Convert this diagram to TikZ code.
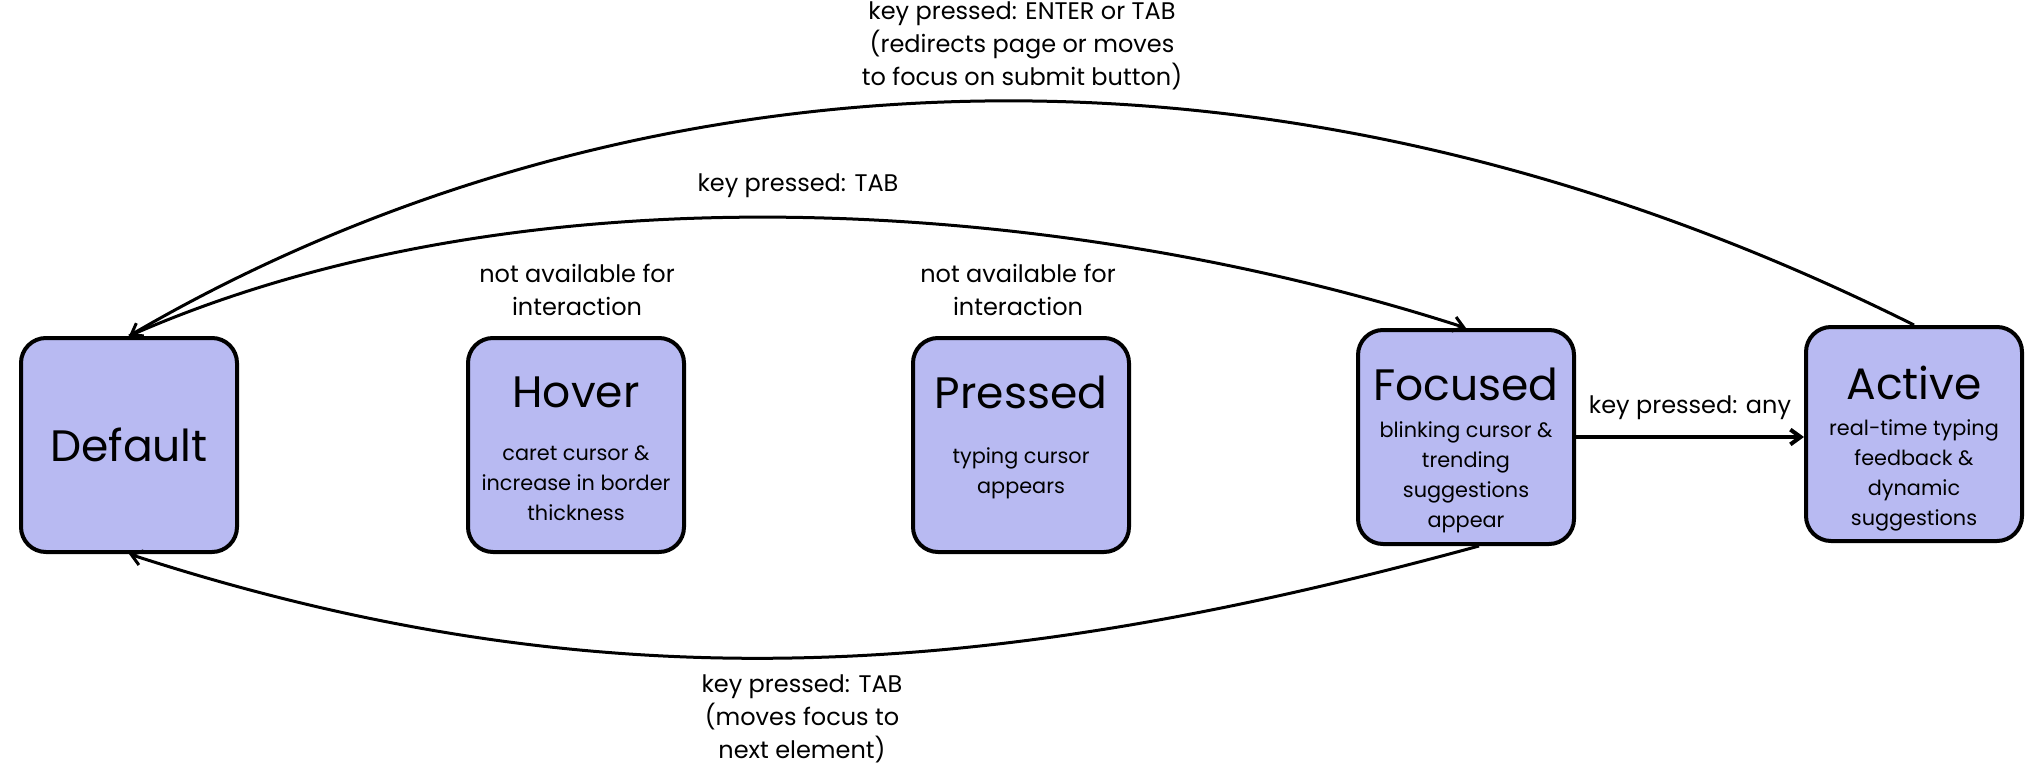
\documentclass[tikz,border=0pt]{standalone}
\usepackage{fontspec}
\setmainfont{Poppins}
\usetikzlibrary{arrows.meta}
\definecolor{lavender}{HTML}{B8BAF2}

\begin{document}
\begin{tikzpicture}[
  x=0.5pt,
  y=-0.5pt,
  statebox/.style={
    rectangle,
    rounded corners=12.5pt,
    draw=black,
    fill=lavender,
    line width=2pt,
    minimum width=108pt,
    minimum height=107pt,
    inner sep=0pt
  },
  headline/.style={font=\fontsize{22}{26}\selectfont},
  detail/.style={
    font=\fontsize{10.4}{15}\selectfont,
    align=center,
    inner sep=0pt
  },
  cue/.style={
    font=\fontsize{12}{16.5}\selectfont,
    align=center,
    inner sep=0pt
  },
  move/.style={
    line width=1.5pt,
    -{Straight Barb[length=1.8mm,width=2.6mm]}
  }
]

\useasboundingbox (0,0) rectangle (2029,770);

\node[statebox] (default) at (129,445) {};
\node[statebox] (hover)   at (576,445) {};
\node[statebox] (pressed) at (1021,445) {};
\node[statebox] (focused) at (1466,437) {};
\node[statebox] (active)  at (1914,434) {};

\node[headline] (defaulttitle) at (129,445) {Default};

\node[headline] (hovertitle) at (576,392) {Hover};
\node[detail] (hovertext) at (576,483)
  {caret cursor \&\\increase in border\\thickness};

\node[headline] (pressedtitle) at (1021,392) {Pressed};
\node[detail] (pressedtext) at (1021,473)
  {typing cursor\\appears};

\node[headline] (focusedtitle) at (1466,384) {Focused};
\node[detail] (focusedtext) at (1466,477)
  {blinking cursor \&\\trending\\suggestions\\appear};

\node[headline] (activetitle) at (1914,383) {Active};
\node[detail] (activetext) at (1914,475)
  {real-time typing\\feedback \&\\dynamic\\suggestions};

\node[cue] (hovernote) at (577,290)
  {not available for\\interaction};
\node[cue] (pressednote) at (1018,290)
  {not available for\\interaction};

\node[cue] (enternote) at (1022,46)
  {key pressed: ENTER or TAB\\(redirects page or moves\\to focus on submit button)};
\node[cue] (tabnote) at (798,186) {key pressed: TAB};
\node[cue] (anynote) at (1690,408) {key pressed: any};
\node[cue] (backnote) at (802,719)
  {key pressed: TAB\\(moves focus to\\next element)};

\draw[move] (active.north)
  .. controls (1190,-36) and (545,93) .. (default.north);
\draw[move] (default.north)
  .. controls (533,158) and (1073,201) .. (focused.north);
\draw[move] ([xshift=6.5pt]focused.south)
  .. controls (996,678) and (607,709) .. (default.south);
\draw[move,line width=2pt] (focused.east) -- (active.west |- focused.east);

\end{tikzpicture}
\end{document}
